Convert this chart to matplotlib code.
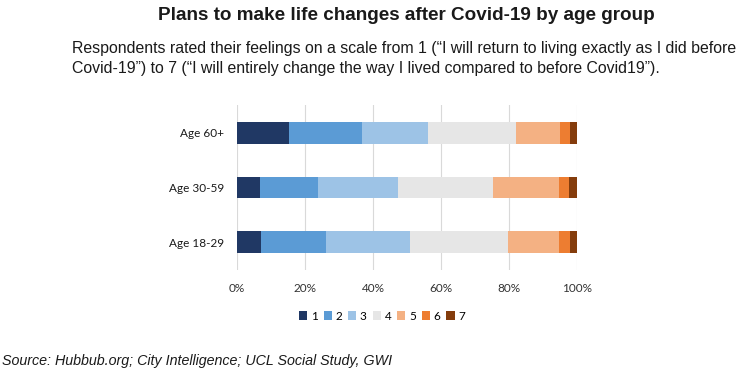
import numpy as np
import matplotlib.pyplot as plt
from matplotlib.patches import Patch

# data (share of respondents, %)
groups = ['Age 18-29', 'Age 30-59', 'Age 60+']
levels = ['1', '2', '3', '4', '5', '6', '7']
age_18_29 = [7.1, 19.0, 24.9, 28.7, 15.1, 3.0, 2.2]
age_30_59 = [6.9, 17.0, 23.5, 27.8, 19.4, 3.1, 2.3]
age_60_plus = [15.4, 21.3, 19.5, 25.9, 13.0, 2.7, 2.2]
xticks = [0, 20, 40, 60, 80, 100]

colors = ['#203864', '#5b9bd5', '#9dc3e6', '#e6e6e6', '#f4b183', '#ed7d31', '#843c0c']

chart_font = ['Lato', 'DejaVu Sans']
text_font = ['Liberation Sans', 'DejaVu Sans']

fig = plt.figure(figsize=(7.45, 3.73), dpi=100)
ax = fig.add_axes([237/745, 1-270/373, 340/745, 165/373])

data = np.array([age_18_29, age_30_59, age_60_plus])
y = np.arange(len(groups))
left = np.zeros(len(groups))
for i in range(len(levels)):
    ax.barh(y, data[:, i], left=left, height=0.4, color=colors[i], zorder=3)
    left += data[:, i]

ax.set_xlim(0, 100)
ax.set_ylim(-0.51, 2.51)
ax.set_xticks(xticks)
ax.set_xticklabels([str(t) + '%' for t in xticks], family=chart_font, fontsize=8.5, color='#333333')
ax.set_yticks(y)
ax.set_yticklabels(groups, family=chart_font, fontsize=8.5, color='#1a1a1a')
ax.tick_params(axis='x', length=0, pad=9)
ax.tick_params(axis='y', length=0, pad=9)
ax.grid(axis='x', color='#d9d9d9', linewidth=0.8, zorder=0)
for s in ax.spines.values():
    s.set_visible(False)

handles = [Patch(facecolor=c, edgecolor='none') for c in colors]
fig.legend(handles, levels, loc='center', bbox_to_anchor=(382/745, 1-316/373), ncol=7,
           frameon=False, handlelength=0.7, handleheight=0.7, handletextpad=0.3,
           columnspacing=0.5, prop={'family': chart_font, 'size': 8.5})

fig.text(406/745, 1-15/373, 'Plans to make life changes after Covid-19 by age group',
         ha='center', va='center', fontsize=13.6, fontweight='bold', family=text_font, color='#1a1a1a')
fig.text(72/745, 1-48/373,
         'Respondents rated their feelings on a scale from 1 (\u201cI will return to living exactly as I did before',
         ha='left', va='center', fontsize=11.4, family=text_font, color='#1a1a1a')
fig.text(72/745, 1-68/373,
         'Covid-19\u201d) to 7 (\u201cI will entirely change the way I lived compared to before Covid19\u201d).',
         ha='left', va='center', fontsize=11.4, family=text_font, color='#1a1a1a')
fig.text(2/745, 1-361/373, 'Source: Hubbub.org; City Intelligence; UCL Social Study, GWI',
         ha='left', va='center', fontsize=10.3, style='italic', family=text_font, color='#1a1a1a')

plt.savefig('out.png', dpi=100)
